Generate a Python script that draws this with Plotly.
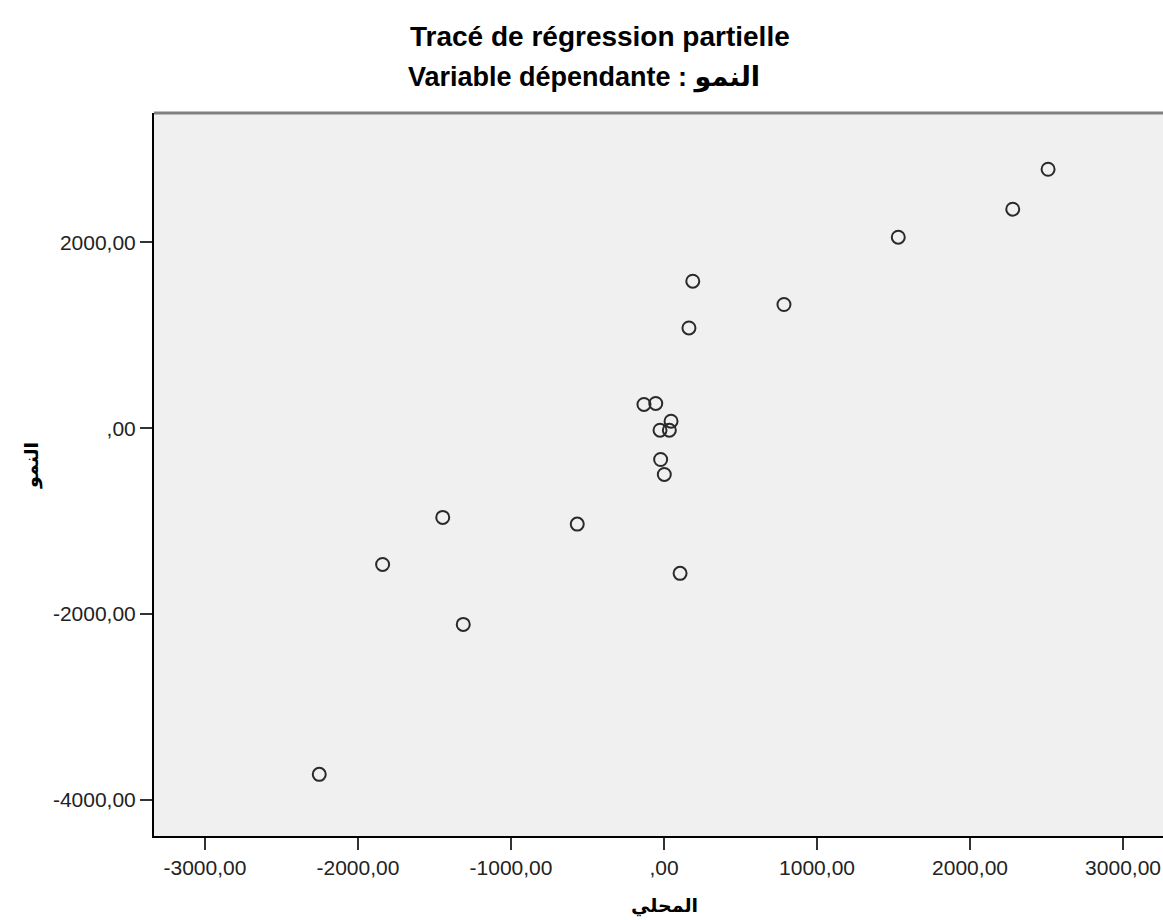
import plotly.graph_objects as go

# Data (partial regression residuals)
x_vals = [2510, 2279, 1531, 784, 188, 163, -131, -54, 46, -26, 35, -22, 2,
          -1446, -1839, -567, 105, -1312, -2253]
y_vals = [2785, 2355, 2054, 1330, 1581, 1078, 255, 266, 75, -22, -22, -337, -498,
          -960, -1466, -1032, -1562, -2111, -3724]

x_ticks = [-3000, -2000, -1000, 0, 1000, 2000, 3000]
x_tick_labels = ["-3000,00", "-2000,00", "-1000,00", ",00", "1000,00", "2000,00", "3000,00"]
y_ticks = [-4000, -2000, 0, 2000]
y_tick_labels = ["-4000,00", "-2000,00", ",00", "2000,00"]

title_text = "Tracé de régression partielle"
subtitle_text = "Variable dépendante : النمو"
x_title = "المحلي"
y_title = "النمو"

W, H = 1163, 920
L, R, T, B = 154, 0, 113, 84
pw = W - L - R
ph = H - T - B

def px_x(p):
    return (p - L) / pw

def px_y(p):
    return (H - B - p) / ph

FONT = "Liberation Sans, Arial, DejaVu Sans, sans-serif"

fig = go.Figure()
fig.add_trace(go.Scatter(
    x=x_vals, y=y_vals, mode="markers",
    marker=dict(symbol="circle-open", size=13, color="#2a2a2a",
                line=dict(width=2, color="#2a2a2a")),
    showlegend=False, cliponaxis=False,
))

fig.update_layout(
    width=W, height=H,
    margin=dict(l=L, r=R, t=T, b=B),
    paper_bgcolor="white",
    plot_bgcolor="#F0F0F0",
    font=dict(family=FONT, color="#222222"),
    xaxis=dict(range=[-3333, 3261], tickvals=x_ticks, ticktext=x_tick_labels,
               showgrid=False, zeroline=False, showline=True, linecolor="black",
               linewidth=2, ticks="outside", ticklen=12, tickwidth=2, tickcolor="#333333",
               tickfont=dict(size=21, family=FONT, color="#222222")),
    yaxis=dict(range=[-4387, 3390], tickvals=y_ticks, ticktext=y_tick_labels,
               showgrid=False, zeroline=False, showline=True, linecolor="black",
               linewidth=2, ticks="outside", ticklen=12, tickwidth=2, tickcolor="#333333",
               tickfont=dict(size=21, family=FONT, color="#222222")),
    shapes=[dict(type="line", xref="paper", yref="paper", x0=0, x1=1, y0=1, y1=1,
                 line=dict(color="#808080", width=3))],
    annotations=[
        dict(text="<b>" + title_text + "</b>", xref="paper", yref="paper",
             x=px_x(600), y=px_y(37), xanchor="center", yanchor="middle",
             showarrow=False, font=dict(size=28, family=FONT, color="black")),
        dict(text="<b>" + subtitle_text + "</b>", xref="paper", yref="paper",
             x=px_x(584), y=px_y(78), xanchor="center", yanchor="middle",
             showarrow=False, font=dict(size=27, family=FONT, color="black")),
        dict(text="<b>" + x_title + "</b>", xref="paper", yref="paper",
             x=px_x(664), y=px_y(906), xanchor="center", yanchor="middle",
             showarrow=False, font=dict(size=19, family=FONT, color="black")),
        dict(text="<b>" + y_title + "</b>", xref="paper", yref="paper",
             x=px_x(32), y=px_y(466), xanchor="center", yanchor="middle",
             textangle=-90, showarrow=False, font=dict(size=19, family=FONT, color="black")),
    ],
)

fig.write_html("out.html",
               config={"displayModeBar": False},
               post_script="document.body.style.margin='0';document.body.style.overflow='hidden';")
